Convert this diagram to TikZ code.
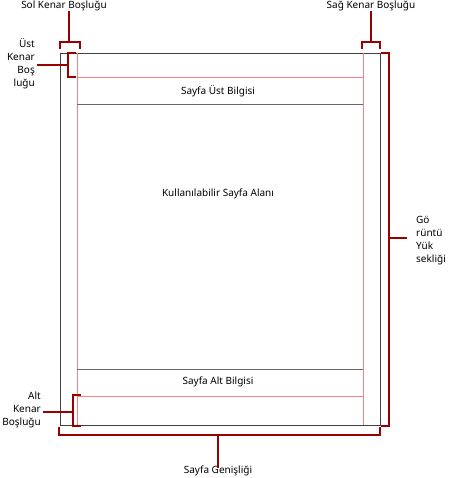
\documentclass[tikz,border=0pt]{standalone}
\usepackage{fontspec}
\setmainfont{Noto Sans}
\begin{document}
\begin{tikzpicture}[x=1pt,y=-1pt,
  pagebox/.style={draw=black!75,line width=0.9pt},
  pinkline/.style={draw=red!50!white,line width=0.7pt},
  grayline/.style={draw=black!60,line width=0.7pt},
  brk/.style={draw=red!60!black,line width=1.6pt},
  lbl/.style={font=\fontsize{10}{13}\selectfont,inner sep=0pt}]
\useasboundingbox (0,0) rectangle (454,478);
% page
\draw[pagebox] (60,53) rectangle (380,425);
\draw[pinkline] (77,53) -- (77,425);
\draw[pinkline] (363,53) -- (363,425);
\draw[pinkline] (77,77) -- (363,77);
\draw[pinkline] (77,396) -- (363,396);
\draw[grayline] (77,104) -- (363,104);
\draw[grayline] (77,369) -- (363,369);
\node[lbl] (hdr) at (218,91) {Sayfa Üst Bilgisi};
\node[lbl] (ftr) at (218,382) {Sayfa Alt Bilgisi};
\node[lbl] (body) at (218,194) {Kullanılabilir Sayfa Alanı};
% labels
\node[lbl] (sol) at (64,6) {Sol Kenar Boşluğu};
\node[lbl] (sag) at (371,6) {Sağ Kenar Boşluğu};
\node[lbl,align=right,anchor=east] (ust) at (35,64) {Üst\\Kenar\\Boş\\luğu};
\node[lbl,align=right,anchor=east] (alt) at (41,410) {Alt\\Kenar\\Boşluğu};
\node[lbl,align=left,anchor=west] (yuk) at (416,241) {Gö\\rüntü\\Yük\\sekliği};
\node[lbl] (gen) at (218,471) {Sayfa Genişliği};
% brackets
\coordinate (solc) at (69,42);
\draw[brk] (60,49) -- (60,42) -- (80,42) -- (80,49);
\draw[brk] (solc) -- (sol.south -| solc);
\coordinate (sagc) at (371,42);
\draw[brk] (362,49) -- (362,42) -- (380,42) -- (380,49);
\draw[brk] (sagc) -- (sag.south -| sagc);
\coordinate (ustc) at (68,65);
\draw[brk] (76,53) -- (68,53) -- (68,77) -- (76,77);
\draw[brk] (ustc) -- ([xshift=2pt]ust.east |- ustc);
\coordinate (altc) at (73,412);
\draw[brk] (81,395) -- (73,395) -- (73,426) -- (81,426);
\draw[brk] (altc) -- ([xshift=2pt]alt.east |- altc);
\coordinate (yukc) at (389,238);
\draw[brk] (381,53) -- (389,53) -- (389,426) -- (381,426);
\draw[brk] (yukc) -- ([xshift=-9pt]yuk.west |- yukc);
\coordinate (genc) at (218,435);
\draw[brk] (59,427) -- (59,435) -- (380,435) -- (380,427);
\draw[brk] (genc) -- ([yshift=-2pt]gen.north -| genc);
\end{tikzpicture}
\end{document}
